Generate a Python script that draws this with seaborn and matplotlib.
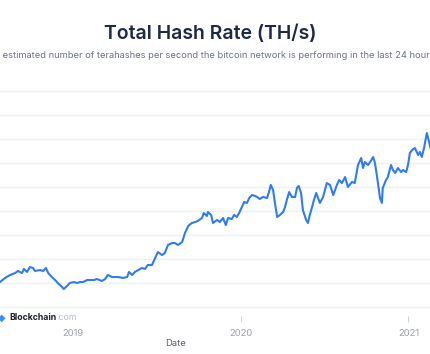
import pandas as pd
import matplotlib.pyplot as plt
import seaborn as sns

# hash rate (millions of TH/s)
dates = [
    "2018-07-15", "2018-07-26", "2018-08-06", "2018-08-17", "2018-08-28", "2018-09-03",
    "2018-09-12", "2018-09-16", "2018-09-23", "2018-09-29", "2018-10-06", "2018-10-10",
    "2018-10-21", "2018-10-28", "2018-11-03", "2018-11-08", "2018-11-16", "2018-11-23",
    "2018-11-29", "2018-12-08", "2018-12-12", "2018-12-19", "2018-12-25", "2019-01-03",
    "2019-01-10", "2019-01-16", "2019-01-23", "2019-02-01", "2019-02-09", "2019-02-16",
    "2019-02-22", "2019-03-05", "2019-03-12", "2019-03-18", "2019-03-27", "2019-04-09",
    "2019-04-20", "2019-04-29", "2019-05-03", "2019-05-10", "2019-05-16", "2019-05-23",
    "2019-05-31", "2019-06-07", "2019-06-13", "2019-06-22", "2019-06-29", "2019-07-05",
    "2019-07-14", "2019-07-20", "2019-07-27", "2019-08-05", "2019-08-11", "2019-08-18",
    "2019-08-27", "2019-09-02", "2019-09-09", "2019-09-17", "2019-09-24", "2019-09-30",
    "2019-10-09", "2019-10-13", "2019-10-20", "2019-10-22", "2019-10-29", "2019-11-02",
    "2019-11-11", "2019-11-17", "2019-11-24", "2019-11-30", "2019-12-05", "2019-12-13",
    "2019-12-18", "2019-12-24", "2019-12-29", "2020-01-04", "2020-01-09", "2020-01-15",
    "2020-01-20", "2020-01-26", "2020-02-02", "2020-02-06", "2020-02-12", "2020-02-19",
    "2020-02-28", "2020-03-03", "2020-03-07", "2020-03-12", "2020-03-16", "2020-03-21",
    "2020-03-27", "2020-04-03", "2020-04-07", "2020-04-11", "2020-04-16", "2020-04-22",
    "2020-04-29", "2020-05-03", "2020-05-07", "2020-05-12", "2020-05-16", "2020-05-23",
    "2020-05-27", "2020-05-31", "2020-06-05", "2020-06-09", "2020-06-14", "2020-06-18",
    "2020-06-22", "2020-06-29", "2020-07-07", "2020-07-14", "2020-07-21", "2020-07-29",
    "2020-08-03", "2020-08-09", "2020-08-16", "2020-08-22", "2020-08-31", "2020-09-06",
    "2020-09-13", "2020-09-20", "2020-09-24", "2020-09-28", "2020-10-05", "2020-10-11",
    "2020-10-16", "2020-10-20", "2020-10-24", "2020-10-27", "2020-10-31", "2020-11-04",
    "2020-11-06", "2020-11-13", "2020-11-17", "2020-11-24", "2020-11-28", "2020-12-03",
    "2020-12-09", "2020-12-16", "2020-12-20", "2020-12-27", "2020-12-31", "2021-01-04",
    "2021-01-09", "2021-01-15", "2021-01-22", "2021-01-26", "2021-01-30", "2021-02-04",
    "2021-02-10", "2021-02-15", "2021-02-19", "2021-02-25",
]
hash_rate = [
    40.0, 40.8, 44.2, 46.7, 48.3, 50.0,
    48.3, 51.7, 49.2, 53.3, 52.5, 50.0,
    50.8, 50.0, 52.5, 48.3, 45.0, 42.5,
    40.0, 36.7, 35.0, 37.5, 40.0, 40.8,
    40.0, 40.8, 40.8, 42.5, 42.5, 42.5,
    43.3, 41.7, 43.3, 46.7, 45.0, 45.0,
    44.2, 45.0, 49.2, 46.7, 49.2, 50.8,
    52.5, 51.7, 55.0, 55.0, 60.8, 65.8,
    63.3, 65.0, 71.7, 73.3, 73.3, 71.7,
    74.2, 81.7, 87.5, 90.0, 90.8, 91.7,
    94.2, 98.3, 95.8, 99.2, 96.7, 90.0,
    92.5, 90.8, 94.2, 88.3, 94.2, 93.3,
    96.7, 95.0, 98.3, 103.3, 107.5, 106.7,
    110.8, 113.3, 112.5, 111.7, 110.0, 111.7,
    110.8, 115.8, 121.7, 117.5, 106.7, 95.0,
    96.7, 99.2, 103.3, 109.2, 115.8, 111.7,
    111.7, 119.2, 120.8, 115.0, 100.8, 92.5,
    90.0, 96.7, 103.3, 109.2, 115.0, 110.8,
    106.7, 111.7, 123.3, 121.7, 113.3, 121.7,
    125.8, 123.3, 128.3, 120.0, 124.2, 123.3,
    138.3, 144.2, 135.8, 140.8, 138.3, 141.7,
    145.0, 140.0, 130.0, 121.7, 110.8, 106.7,
    119.2, 125.8, 128.3, 138.3, 134.2, 131.7,
    135.8, 132.5, 134.2, 132.5, 138.3, 148.3,
    150.8, 152.5, 146.7, 149.2, 145.0, 152.5,
    165.0, 157.5, 150.8, 155.0,
]
year_ticks = ["2019-01-01", "2020-01-01", "2021-01-01"]
year_labels = ["2019", "2020", "2021"]
grid_values = list(range(20, 201, 20))

df = pd.DataFrame({"Date": pd.to_datetime(dates), "hash_rate": hash_rate})

sns.set_theme(style="white")
plt.rcParams["font.family"] = ["Inter", "DejaVu Sans"]

W, H = 431, 354
fig = plt.figure(figsize=(W / 100, H / 100), dpi=100)
# plot area is wider than the picture (cropped screenshot)
ax = fig.add_axes([0, (H - 316) / H, 1, (316 - 88) / H])

sns.lineplot(data=df, x="Date", y="hash_rate", ax=ax,
             color="#2f7bf5", linewidth=1.5)

base = pd.Timestamp("2019-01-01")
px_day = 365 / 167.5
ax.set_xlim(base + pd.Timedelta(days=-73 * px_day),
            base + pd.Timedelta(days=(W - 73) * px_day))
ax.set_ylim(20 - 9 / 1.2, 20 + 219 / 1.2)

ax.set_yticks(grid_values)
ax.set_yticklabels([])
ax.tick_params(axis="y", length=0)
ax.grid(axis="y", color="#eef0f4", linewidth=1)
ax.set_axisbelow(True)

ax.set_xticks(pd.to_datetime(year_ticks))
ax.set_xticklabels(year_labels)
ax.tick_params(axis="x", direction="out", length=4.5, width=0.8,
               color="#cfd3da", pad=5, labelsize=6.8, labelcolor="#9aa1b1")
ax.xaxis.set_ticks_position("bottom")
for s in ax.spines.values():
    s.set_visible(False)
ax.set_xlabel("")
ax.set_ylabel("")

fig.text(176 / W, 1 - 344 / H, "Date", ha="center", va="center",
         fontsize=6.8, color="#5a606c")

fig.text(210 / W, 1 - 34 / H, "Total Hash Rate (TH/s)", ha="center", va="center",
         fontsize=14, fontweight="semibold", color="#1e2a44")
fig.text(210 / W, 1 - 55 / H,
         "The estimated number of terahashes per second the bitcoin network is performing in the last 24 hours.",
         ha="center", va="center", fontsize=6.7, color="#6b7385")

# watermark
fig.text(2 / W, 1 - 318 / H, "◆", ha="center", va="center", fontsize=7,
         color="#3d89f5", family="DejaVu Sans")
brand = fig.text(9 / W, 1 - 318 / H, "Blockchain", ha="left", va="center",
                 fontsize=6.3, fontweight="bold", color="#1b1f2a",
                 bbox=dict(facecolor="white", edgecolor="none", pad=0.5))
fig.text(0, 0, "")
ax.annotate(".com", xy=(1, 0.5), xycoords=brand, ha="left", va="center",
            fontsize=6.3, color="#b8bdc7", annotation_clip=False,
            bbox=dict(facecolor="white", edgecolor="none", pad=0.5))

fig.savefig("out.png", dpi=100)
